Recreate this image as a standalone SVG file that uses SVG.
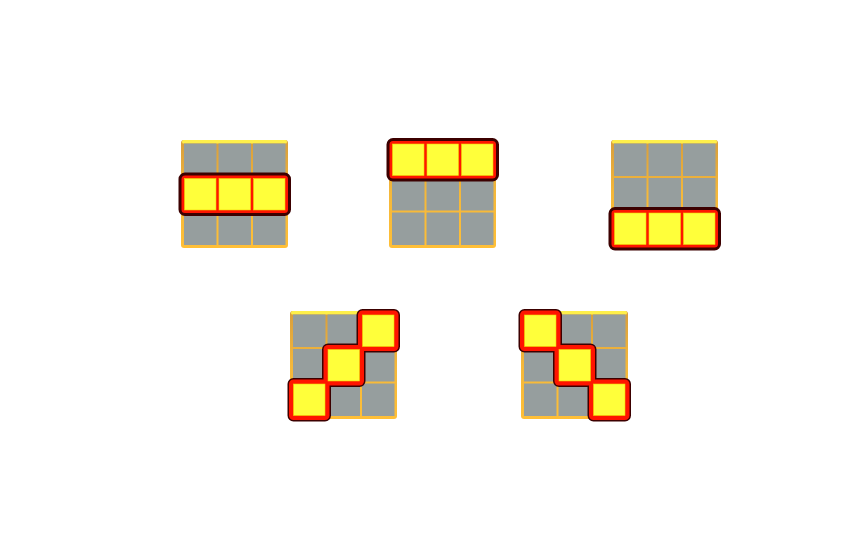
<svg xmlns="http://www.w3.org/2000/svg" width="860" height="560" viewBox="0 0 860 560">
  <defs>
    <linearGradient id="bg" x1="0" y1="0" x2="0" y2="1">
      <stop offset="0" stop-color="#d89e3c"/>
      <stop offset="0.5" stop-color="#f5b83a"/>
      <stop offset="1" stop-color="#ffbf36"/>
    </linearGradient>
    <style>
      .base { fill: url(#bg); }
      .top { fill: #fff04a; }
      .cell { fill: #969e9e; }
      .hl-out { fill: #ff1500; stroke: #3c0000; stroke-width: 3; }
      .hl-in { fill: #ff1500; }
      .on { fill: #ffff3a; stroke: #f2d400; stroke-width: 0.6; }
    </style>
    <g id="grid">
      <rect class="base" x="0" y="0" width="107" height="108" rx="3"/>
      <rect class="top" x="1" y="0" width="105" height="3.5" rx="1.5"/>
      <rect class="cell" x="3" y="3.5" width="32.5" height="32.5"/>
      <rect class="cell" x="37.5" y="3.5" width="32.5" height="32.5"/>
      <rect class="cell" x="72" y="3.5" width="32.5" height="32.5"/>
      <rect class="cell" x="3" y="38" width="32.5" height="32.5"/>
      <rect class="cell" x="37.5" y="38" width="32.5" height="32.5"/>
      <rect class="cell" x="72" y="38" width="32.5" height="32.5"/>
      <rect class="cell" x="3" y="72.5" width="32.5" height="32.5"/>
      <rect class="cell" x="37.5" y="72.5" width="32.5" height="32.5"/>
      <rect class="cell" x="72" y="72.5" width="32.5" height="32.5"/>
    </g>
  </defs>

  <g id="grid-middle-row" transform="translate(181,140)">
    <use href="#grid"/>
    <rect class="hl-out" x="-1" y="34" width="109.5" height="40.5" rx="5"/>
    <rect class="on" x="3.5" y="38.5" width="31.5" height="31.5"/>
    <rect class="on" x="38" y="38.5" width="31.5" height="31.5"/>
    <rect class="on" x="72.5" y="38.5" width="31.5" height="31.5"/>
  </g>

  <g id="grid-top-row" transform="translate(389,140)">
    <use href="#grid"/>
    <rect class="hl-out" x="-1" y="-0.5" width="109.5" height="40.5" rx="5"/>
    <rect class="on" x="3.5" y="4" width="31.5" height="31.5"/>
    <rect class="on" x="38" y="4" width="31.5" height="31.5"/>
    <rect class="on" x="72.5" y="4" width="31.5" height="31.5"/>
  </g>

  <g id="grid-bottom-row" transform="translate(611,140)">
    <use href="#grid"/>
    <rect class="hl-out" x="-1" y="68.5" width="109.5" height="40.5" rx="5"/>
    <rect class="on" x="3.5" y="73" width="31.5" height="31.5"/>
    <rect class="on" x="38" y="73" width="31.5" height="31.5"/>
    <rect class="on" x="72.5" y="73" width="31.5" height="31.5"/>
  </g>

  <g id="grid-anti-diagonal" transform="translate(290,311)">
    <use href="#grid"/>
    <rect class="hl-out" x="-1" y="68.5" width="40.5" height="40.5" rx="4.5"/>
    <rect class="hl-out" x="33.5" y="34" width="40.5" height="40.5" rx="4.5"/>
    <rect class="hl-out" x="68" y="-0.5" width="40.5" height="40.5" rx="4.5"/>
    <rect class="hl-in" x="-1" y="68.5" width="40.5" height="40.5" rx="4.5"/>
    <rect class="hl-in" x="33.5" y="34" width="40.5" height="40.5" rx="4.5"/>
    <rect class="hl-in" x="68" y="-0.5" width="40.5" height="40.5" rx="4.5"/>
    <rect class="on" x="3.5" y="73" width="31.5" height="31.5"/>
    <rect class="on" x="38" y="38.5" width="31.5" height="31.5"/>
    <rect class="on" x="72.5" y="4" width="31.5" height="31.5"/>
  </g>

  <g id="grid-main-diagonal" transform="translate(521,311)">
    <use href="#grid"/>
    <rect class="hl-out" x="-1" y="-0.5" width="40.5" height="40.5" rx="4.5"/>
    <rect class="hl-out" x="33.5" y="34" width="40.5" height="40.5" rx="4.5"/>
    <rect class="hl-out" x="68" y="68.5" width="40.5" height="40.5" rx="4.5"/>
    <rect class="hl-in" x="-1" y="-0.5" width="40.5" height="40.5" rx="4.5"/>
    <rect class="hl-in" x="33.5" y="34" width="40.5" height="40.5" rx="4.5"/>
    <rect class="hl-in" x="68" y="68.5" width="40.5" height="40.5" rx="4.5"/>
    <rect class="on" x="3.5" y="4" width="31.5" height="31.5"/>
    <rect class="on" x="38" y="38.5" width="31.5" height="31.5"/>
    <rect class="on" x="72.5" y="73" width="31.5" height="31.5"/>
  </g>

  <g id="connectors"/>
</svg>
